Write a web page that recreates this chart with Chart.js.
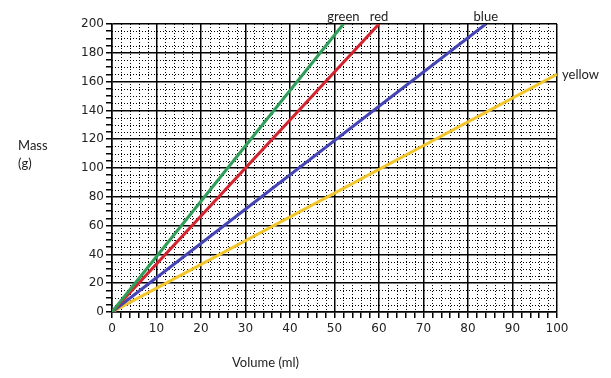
<!DOCTYPE html>
<html>
<head>
<meta charset="utf-8">
<script src="https://cdn.jsdelivr.net/npm/chart.js@4"></script>
<style>
  html, body { margin: 0; padding: 0; background: #fff; }
  #wrap { width: 611px; height: 378px; }
</style>
</head>
<body>
<div id="wrap"><canvas id="grafikon"></canvas></div>
<script>
// data: mass (g) against volume (ml)
var nazivi = ["green", "red", "blue", "yellow"];
var boje = ["#2e9e58", "#d2232f", "#4444b4", "#f2c62a"];
var volumen = [[0, 52], [0, 60], [0, 84], [0, 100]];
var masa = [[0, 200], [0, 200], [0, 200], [0, 165]];

var datasets = [];
for (let i = 0; i < nazivi.length; i++) {
    var tocke = [];
    for (let j = 0; j < volumen[i].length; j++) {
        tocke.push({x: volumen[i][j], y: masa[i][j]});
    }
    datasets.push({
        label: nazivi[i],
        data: tocke,
        borderColor: boje[i],
        backgroundColor: boje[i],
        borderWidth: 3,
        pointRadius: 0,
        showLine: true
    });
}

// dotted minor grid + text labels
var dodaci = {
    id: "dodaci",
    beforeDatasetsDraw: function (chart) {
        var ctx = chart.ctx;
        var xs = chart.scales.x, ys = chart.scales.y;
        var a = chart.chartArea;
        ctx.save();
        ctx.strokeStyle = "#000";
        ctx.lineWidth = 1;
        ctx.setLineDash([1, 2]);
        for (let v = 0; v <= 100; v += 2) {
            if (v % 10 === 0) continue;
            var px = Math.round(xs.getPixelForValue(v)) + 0.5;
            ctx.beginPath();
            ctx.moveTo(px, a.top);
            ctx.lineTo(px, a.bottom);
            ctx.stroke();
        }
        for (let v = 0; v <= 200; v += 5) {
            if (v % 20 === 0) continue;
            var py = Math.round(ys.getPixelForValue(v)) + 0.5;
            ctx.beginPath();
            ctx.moveTo(a.left, py);
            ctx.lineTo(a.right, py);
            ctx.stroke();
        }
        ctx.restore();
    },
    afterDatasetsDraw: function (chart) {
        var ctx = chart.ctx;
        var xs = chart.scales.x, ys = chart.scales.y;
        ctx.save();
        ctx.fillStyle = "#222";
        ctx.font = "13px Lato, 'Open Sans', sans-serif";
        ctx.textBaseline = "middle";
        for (let i = 0; i < nazivi.length; i++) {
            var n = volumen[i].length - 1;
            var px = xs.getPixelForValue(volumen[i][n]);
            var py = ys.getPixelForValue(masa[i][n]);
            if (masa[i][n] >= 200) {
                ctx.textAlign = "center";
                ctx.fillText(nazivi[i], px, py - 7);
            } else {
                ctx.textAlign = "left";
                ctx.fillText(nazivi[i], px + 5, py);
            }
        }
        ctx.textAlign = "left";
        ctx.fillText("Mass", 18, 146);
        ctx.fillText("(g)", 18, 164);
        ctx.fillText("Volume (ml)", 232, 363);
        ctx.restore();
    }
};

new Chart("grafikon", {
    type: "scatter",
    data: { datasets: datasets },
    plugins: [dodaci],
    options: {
        responsive: true,
        maintainAspectRatio: false,
        animation: false,
        layout: { padding: { left: 0, right: 54, top: 24, bottom: 0 } },
        plugins: {
            legend: { display: false },
            tooltip: { enabled: false }
        },
        scales: {
            x: {
                type: "linear",
                min: 0,
                max: 100,
                afterFit: function (s) { s.height = 66; },
                ticks: {
                    stepSize: 2,
                    autoSkip: false,
                    maxRotation: 0,
                    color: "#222",
                    padding: 4,
                    font: { family: "'DejaVu Sans', sans-serif", size: 12 },
                    callback: function (v) { return v % 10 === 0 ? v : ""; }
                },
                grid: {
                    color: function (c) { return c.tick && c.tick.value % 10 === 0 ? "#000" : "rgba(0,0,0,0)"; },
                    tickColor: "#000",
                    tickLength: 6,
                    lineWidth: 1.5
                },
                border: { color: "#000", width: 1.5 }
            },
            y: {
                type: "linear",
                min: 0,
                max: 200,
                afterFit: function (s) { s.width = 112; },
                ticks: {
                    stepSize: 5,
                    autoSkip: false,
                    color: "#222",
                    padding: 2,
                    font: { family: "'DejaVu Sans', sans-serif", size: 12 },
                    callback: function (v) { return v % 20 === 0 ? v : ""; }
                },
                grid: {
                    color: function (c) { return c.tick && c.tick.value % 20 === 0 ? "#000" : "rgba(0,0,0,0)"; },
                    tickColor: "#000",
                    tickLength: 6,
                    lineWidth: 1.5
                },
                border: { color: "#000", width: 1.5 }
            }
        }
    }
});
</script>
</body>
</html>
